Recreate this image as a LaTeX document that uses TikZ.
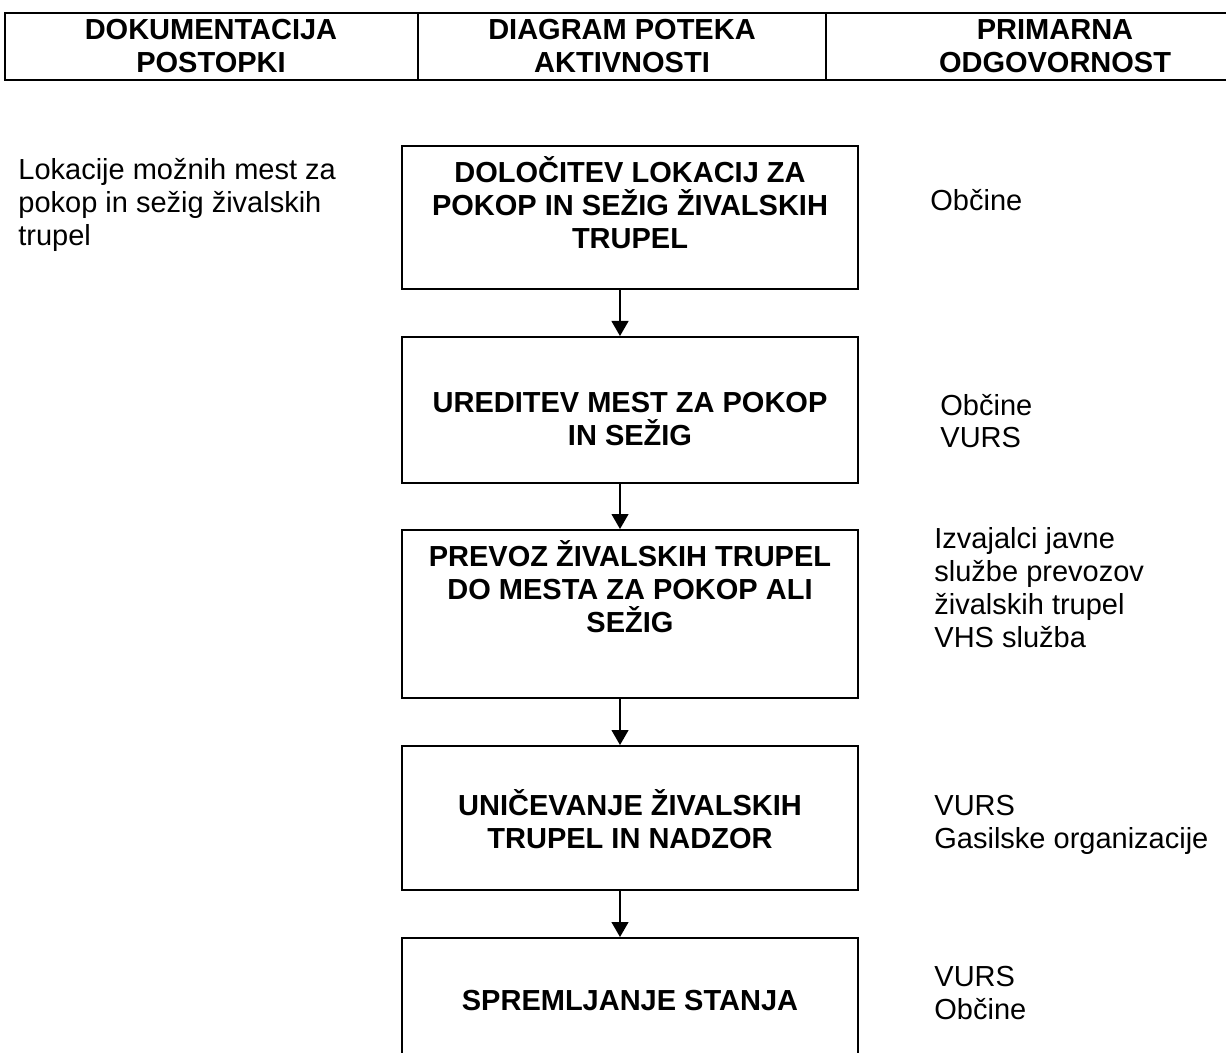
\documentclass[tikz,border=0pt]{standalone}
\usepackage{fontspec}
\setmainfont{Liberation Sans}
\usetikzlibrary{arrows.meta}

\tikzset{
  hdr/.style={font=\fontsize{14.5}{16.5}\selectfont\bfseries,align=center,anchor=base,inner sep=0pt},
  box/.style={draw,line width=1pt,minimum width=228pt,inner sep=0pt},
  note/.style={font=\fontsize{14.5}{16.5}\selectfont,align=left,anchor=base west,inner sep=0pt},
  flow/.style={line width=0.6pt,-{Triangle[length=7.5pt,width=8.5pt]}}
}

\begin{document}
\begin{tikzpicture}[x=0.5pt,y=-0.5pt]
\useasboundingbox (0,0) rectangle (1226,1053);
\clip (0,0) rectangle (1226,1053);
% header
\draw[line width=1.2pt] (5,13) rectangle (1284,80) (418,13)--(418,80) (826,13)--(826,80);
\node[hdr] (h1) at (211,73) {DOKUMENTACIJA\\POSTOPKI};
\node[hdr] (h2) at (622,73) {DIAGRAM POTEKA\\AKTIVNOSTI};
\node[hdr] (h3) at (1055,73) {PRIMARNA\\ODGOVORNOST};
% boxes
\node[box,minimum height=71.5pt] (b1) at (630,217.5) {};
\node[box,minimum height=73pt] (b2) at (630,410) {};
\node[box,minimum height=84pt] (b3) at (630,614) {};
\node[box,minimum height=72pt] (b4) at (630,818) {};
\node[box,minimum height=73pt] (b5) at (630,1011) {};
\node[hdr] (t1) at (630,249) {DOLOČITEV LOKACIJ ZA\\POKOP IN SEŽIG ŽIVALSKIH\\TRUPEL};
\node[hdr] (t2) at (630,445) {UREDITEV MEST ZA POKOP\\IN SEŽIG};
\node[hdr] (t3) at (630,632) {PREVOZ ŽIVALSKIH TRUPEL\\DO MESTA ZA POKOP ALI\\SEŽIG};
\node[hdr] (t4) at (630,848) {UNIČEVANJE ŽIVALSKIH\\TRUPEL IN NADZOR};
\node[hdr] (t5) at (630,1010) {SPREMLJANJE STANJA};
\foreach \a/\b in {b1/b2,b2/b3,b3/b4,b4/b5}
  \draw[flow] ([xshift=-5pt]\a.south) -- ([xshift=-5pt]\b.north);
% documents
\node[note] (d1) at (18,246) {Lokacije možnih mest za\\pokop in sežig živalskih\\trupel};
% responsibility
\node[note] (r1) at (930,211) {Občine};
\node[note] (r2) at (940,448) {Občine\\VURS};
\node[note] (r3) at (934,647) {Izvajalci javne\\službe prevozov\\živalskih trupel\\VHS služba};
\node[note] (r4) at (934,848) {VURS\\Gasilske organizacije};
\node[note] (r5) at (934,1019) {VURS\\Občine};
\end{tikzpicture}
\end{document}
